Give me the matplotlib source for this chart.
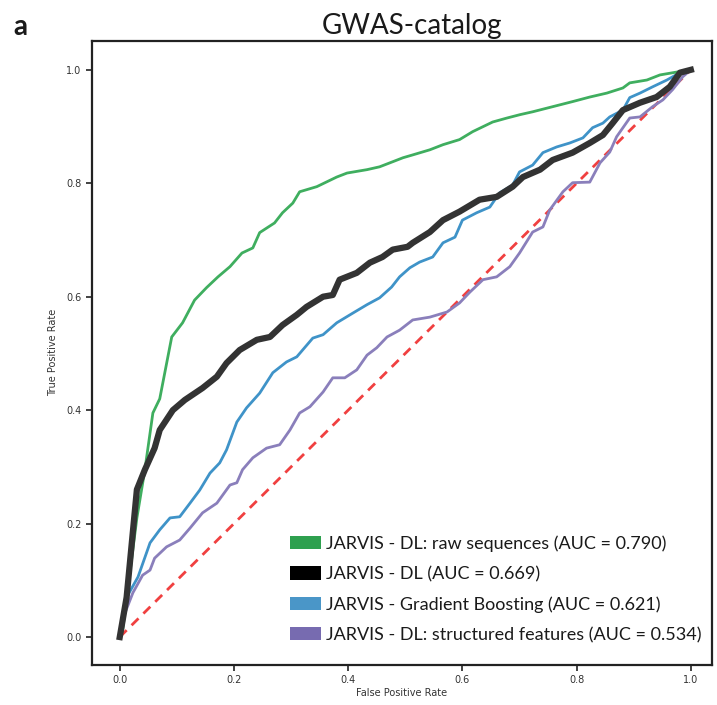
import matplotlib
matplotlib.use("Agg")
import matplotlib.pyplot as plt
from matplotlib.patches import Patch

# ROC curves (FPR, TPR)
raw_fpr = [0, 0.005, 0.03, 0.044, 0.058, 0.07, 0.091, 0.110, 0.131, 0.152, 0.172, 0.193, 0.214, 0.233, 0.245,
           0.271, 0.285, 0.303, 0.315, 0.345, 0.380, 0.398, 0.433, 0.455, 0.473, 0.496, 0.513, 0.543, 0.566,
           0.595, 0.618, 0.653, 0.678, 0.701, 0.723, 0.758, 0.793, 0.823, 0.853, 0.881, 0.893, 0.923, 0.946,
           0.975, 1.0]
raw_tpr = [0, 0.012, 0.21, 0.295, 0.395, 0.42, 0.529, 0.554, 0.594, 0.616, 0.635, 0.653, 0.677, 0.686, 0.713,
           0.730, 0.748, 0.765, 0.785, 0.794, 0.811, 0.818, 0.824, 0.829, 0.836, 0.845, 0.850, 0.859, 0.868,
           0.877, 0.891, 0.908, 0.915, 0.921, 0.926, 0.935, 0.944, 0.952, 0.959, 0.968, 0.977, 0.982, 0.991,
           0.996, 1.0]

dl_fpr = [0, 0.012, 0.03, 0.044, 0.061, 0.07, 0.093, 0.114, 0.145, 0.17, 0.187, 0.21, 0.24, 0.263, 0.285,
          0.31, 0.327, 0.356, 0.373, 0.385, 0.415, 0.438, 0.46, 0.478, 0.504, 0.513, 0.543, 0.566, 0.595,
          0.63, 0.66, 0.688, 0.706, 0.736, 0.758, 0.793, 0.823, 0.846, 0.863, 0.881, 0.911, 0.940, 0.963,
          0.981, 1.0]
dl_tpr = [0, 0.07, 0.26, 0.295, 0.333, 0.365, 0.40, 0.418, 0.439, 0.459, 0.483, 0.506, 0.524, 0.529, 0.55,
          0.568, 0.582, 0.60, 0.603, 0.63, 0.642, 0.66, 0.67, 0.683, 0.688, 0.695, 0.714, 0.735, 0.750,
          0.771, 0.776, 0.794, 0.811, 0.824, 0.841, 0.854, 0.871, 0.885, 0.906, 0.929, 0.942, 0.952, 0.970,
          0.995, 1.0]

gb_fpr = [0, 0.012, 0.032, 0.053, 0.07, 0.088, 0.105, 0.123, 0.14, 0.158, 0.175, 0.187, 0.205, 0.222, 0.245,
          0.268, 0.292, 0.31, 0.338, 0.356, 0.38, 0.408, 0.433, 0.455, 0.476, 0.49, 0.508, 0.525, 0.548,
          0.566, 0.587, 0.60, 0.625, 0.648, 0.665, 0.688, 0.70, 0.723, 0.741, 0.765, 0.788, 0.811, 0.828,
          0.846, 0.858, 0.881, 0.893, 0.911, 0.933, 0.958, 0.981, 1.0]
gb_tpr = [0, 0.07, 0.106, 0.166, 0.189, 0.21, 0.212, 0.236, 0.259, 0.289, 0.307, 0.33, 0.379, 0.404, 0.43,
          0.466, 0.485, 0.494, 0.527, 0.533, 0.554, 0.571, 0.586, 0.598, 0.617, 0.635, 0.651, 0.661, 0.67,
          0.695, 0.705, 0.735, 0.748, 0.758, 0.783, 0.797, 0.82, 0.832, 0.854, 0.864, 0.871, 0.88, 0.898,
          0.906, 0.917, 0.929, 0.951, 0.959, 0.97, 0.982, 0.995, 1.0]

sf_fpr = [0, 0.009, 0.023, 0.04, 0.053, 0.061, 0.082, 0.105, 0.123, 0.145, 0.17, 0.193, 0.205, 0.215, 0.233,
          0.257, 0.28, 0.298, 0.315, 0.333, 0.356, 0.373, 0.394, 0.415, 0.433, 0.45, 0.468, 0.49, 0.513,
          0.543, 0.573, 0.595, 0.613, 0.636, 0.66, 0.683, 0.70, 0.723, 0.741, 0.753, 0.776, 0.793, 0.823,
          0.841, 0.858, 0.870, 0.893, 0.911, 0.933, 0.951, 0.968, 0.986, 1.0]
sf_tpr = [0, 0.042, 0.078, 0.109, 0.118, 0.139, 0.159, 0.171, 0.192, 0.219, 0.236, 0.268, 0.272, 0.295, 0.316,
          0.333, 0.339, 0.365, 0.395, 0.406, 0.432, 0.457, 0.457, 0.471, 0.497, 0.51, 0.529, 0.541, 0.559,
          0.564, 0.573, 0.589, 0.608, 0.63, 0.635, 0.653, 0.677, 0.714, 0.723, 0.753, 0.785, 0.801, 0.802,
          0.836, 0.855, 0.882, 0.915, 0.917, 0.935, 0.947, 0.965, 0.988, 1.0]

labels = ["JARVIS - DL: raw sequences (AUC = 0.790)",
          "JARVIS - DL (AUC = 0.669)",
          "JARVIS - Gradient Boosting (AUC = 0.621)",
          "JARVIS - DL: structured features (AUC = 0.534)"]
line_colors = ["#3fae5f", "#333333", "#3f93c8", "#8a7fbb"]
patch_colors = ["#2ea04f", "#000000", "#4a96c8", "#776bb0"]
ticks = [0.0, 0.2, 0.4, 0.6, 0.8, 1.0]

fig = plt.figure(figsize=(7.17, 7.05), dpi=100)
ax = fig.add_axes([0.128, 0.057, 0.865, 0.885])

ax.plot([0, 1], [0, 1], color="#f04040", lw=2, ls=(0, (3.5, 2.5)), zorder=1)
ax.plot(sf_fpr, sf_tpr, color=line_colors[3], lw=2.0, zorder=2)
ax.plot(gb_fpr, gb_tpr, color=line_colors[2], lw=2.0, zorder=3)
ax.plot(raw_fpr, raw_tpr, color=line_colors[0], lw=2.0, zorder=4)
ax.plot(dl_fpr, dl_tpr, color=line_colors[1], lw=4.5, zorder=5)

ax.set_xlim(-0.049, 1.037)
ax.set_ylim(-0.049, 1.051)
ax.set_xticks(ticks)
ax.set_yticks(ticks)
ax.set_xticklabels([f"{t:.1f}" for t in ticks])
ax.set_yticklabels([f"{t:.1f}" for t in ticks])
ax.tick_params(labelsize=7, length=4, width=1.2, colors="#222222", labelcolor="#333333")
for s in ax.spines.values():
    s.set_linewidth(1.6)
    s.set_color("#222222")
ax.set_xlabel("False Positive Rate", fontsize=7, color="#333333", labelpad=2)
ax.set_ylabel("True Positive Rate", fontsize=7, color="#333333", labelpad=6)

ax.set_title("GWAS-catalog", fontsize=20, family="Lato", color="#1a1a1a", pad=5, x=0.516)
fig.text(0.018, 0.962, "a", fontsize=20, fontweight="bold", family="Lato", va="center", color="#1a1a1a")

handles = [Patch(facecolor=c, edgecolor="none") for c in patch_colors]
leg = ax.legend(handles, labels, loc="lower right", bbox_to_anchor=(0.983, 0.035), frameon=False,
                prop={"family": "Lato", "size": 13}, handlelength=1.75, handleheight=0.78,
                handletextpad=0.25, labelspacing=0.78, borderpad=0, borderaxespad=0)
for t in leg.get_texts():
    t.set_color("#1a1a1a")

fig.savefig("out.png", dpi=100)
